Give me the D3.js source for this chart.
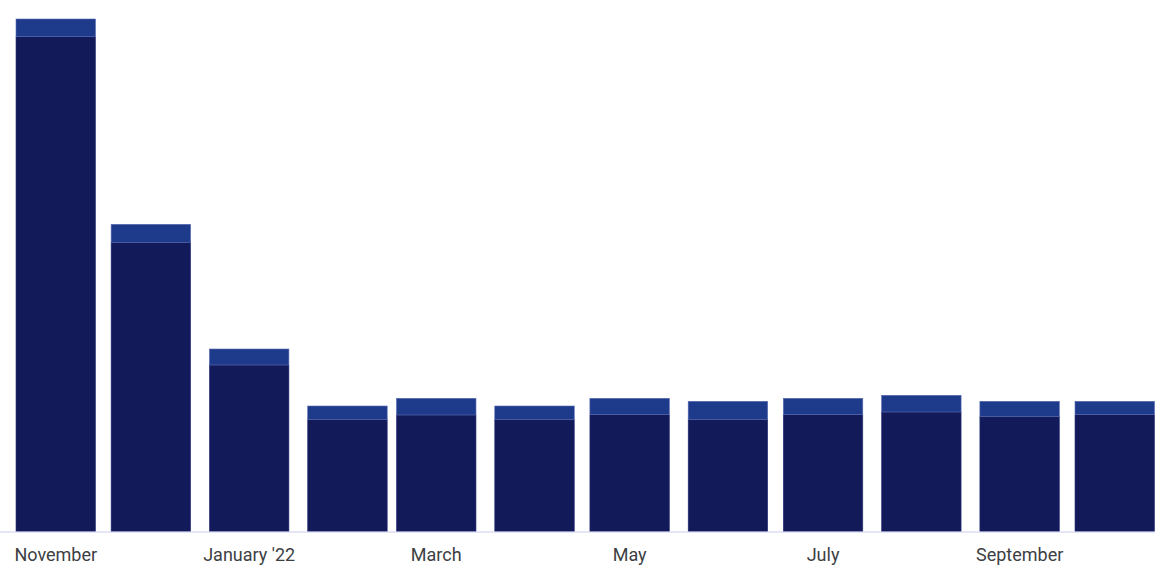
<!DOCTYPE html>
<html>
<head>
<meta charset="utf-8">
<script src="https://cdn.jsdelivr.net/npm/d3@7"></script>
<style>
  html, body { margin: 0; padding: 0; background: #ffffff; }
  svg { display: block; }
</style>
</head>
<body>
<svg id="chart" width="1164" height="574"></svg>
<script>
// Data
const months = ["2021-11-01","2021-12-01","2022-01-01","2022-02-01","2022-03-01","2022-04-01",
                "2022-05-01","2022-06-01","2022-07-01","2022-08-01","2022-09-01","2022-10-01"];
const seriesBase = [494.8, 289.2, 166.5, 112.2, 116.5, 112.2, 116.8, 112.2, 116.8, 119.5, 115.2, 116.8];
const seriesTop  = [17.7, 18.0, 16.0, 13.3, 16.7, 13.3, 16.4, 18.0, 16.4, 16.7, 15.0, 13.4];
const tickLabels = ["November", "", "January '22", "", "March", "", "May", "", "July", "", "September", ""];

const parse = d3.timeParse("%Y-%m-%d");
const dates = months.map(parse);

const svg = d3.select("#chart");
const barW = 79.5;

const x = d3.scaleTime()
  .domain([dates[0], dates[dates.length - 1]])
  .range([16, 1075]);

const y = d3.scaleLinear()
  .domain([0, 520])
  .range([531.5, 11.5]);

const rows = dates.map((d, i) => ({ date: d, base: seriesBase[i], top: seriesTop[i], label: tickLabels[i] }));
const stack = d3.stack().keys(["base", "top"])(rows);
const colors = { base: "#131a5a", top: "#1e3a8a" };
const strokes = { base: "#2a3478", top: "#5b6db3" };

svg.append("g").selectAll("g")
  .data(stack)
  .join("g")
  .selectAll("rect")
  .data(s => s.map(p => ({ key: s.key, p })))
  .join("rect")
  .attr("x", d => x(d.p.data.date))
  .attr("width", barW)
  .attr("y", d => y(d.p[1]))
  .attr("height", d => y(d.p[0]) - y(d.p[1]))
  .attr("fill", d => colors[d.key])
  .attr("stroke", d => strokes[d.key])
  .attr("stroke-width", 0.6);

// Axis
const axisG = svg.append("g").attr("transform", "translate(0,532)");
axisG.append("line")
  .attr("x1", 0).attr("x2", 1155)
  .attr("stroke", "#c9cdeb").attr("stroke-width", 1.2);

axisG.selectAll("text")
  .data(rows.filter(r => r.label))
  .join("text")
  .attr("x", d => x(d.date) + barW / 2)
  .attr("y", 29)
  .attr("text-anchor", "middle")
  .attr("font-family", "Roboto, 'Open Sans', sans-serif")
  .attr("font-size", 18)
  .attr("fill", "#3c4043")
  .text(d => d.label);
</script>
</body>
</html>
